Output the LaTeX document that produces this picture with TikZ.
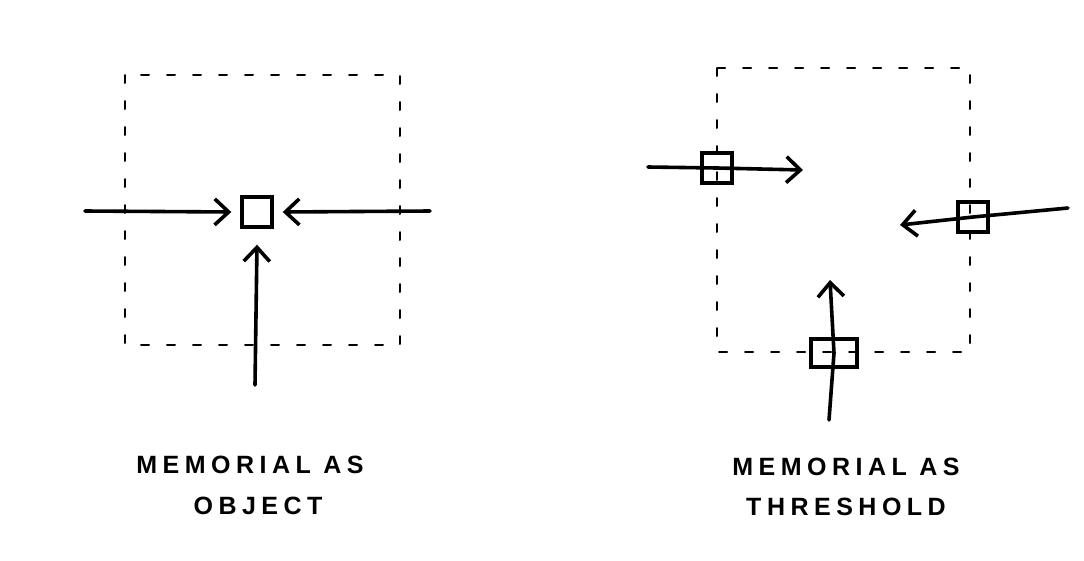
\documentclass[tikz,border=0pt]{standalone}
\usepackage{fontspec}
\setmainfont{Liberation Sans}[LetterSpace=22]
\usetikzlibrary{arrows.meta}
\begin{document}
\begin{tikzpicture}[x=1pt,y=-1pt,
  frame/.style={line width=2pt,dash pattern=on 8pt off 18pt,line cap=round},
  flow/.style={line width=3.6pt,line cap=round,-{Straight Barb[length=14pt,width=26pt,line width=3.6pt]}},
  memo/.style={draw,line width=3.4pt,minimum width=30pt,minimum height=30pt,inner sep=0pt},
  lbl/.style={font=\fontsize{25}{29}\selectfont\bfseries,align=center,inner sep=0pt}]
\useasboundingbox (0,0) rectangle (1084,560);
% left diagram
\coordinate (l1) at (125,75);
\coordinate (l2) at (400,345);
\draw[frame] (l1) rectangle (l2);
\node[memo] (sq) at (257,212) {};
\coordinate (la) at (85,211);
\coordinate (ra) at (430,211);
\coordinate (ba) at (255,385);
\draw[flow] (la) -- ([xshift=-9pt]sq.west);
\draw[flow] (ra) -- ([xshift=9pt]sq.east);
\draw[flow] (ba) -- ([yshift=-16pt]sq.south);
\node[lbl] (t1) at (250,465) {MEMORIAL AS};
\node[lbl] (t2) at (258,506) {OBJECT};
% right diagram
\coordinate (r1) at (717,68);
\coordinate (r2) at (970,352);
\draw[frame] (r1) rectangle (r2);
\node[memo] (s1) at (717,168) {};
\node[memo] (s2) at (973,217) {};
\node[memo,minimum width=46pt,minimum height=28pt] (s3) at (834,353) {};
\coordinate (a1s) at (648,167);
\coordinate (a1e) at (803,170);
\coordinate (a2s) at (1068,208);
\coordinate (a2e) at (900,225);
\coordinate (a3s) at (829,420);
\coordinate (a3e) at (830,280);
\draw[flow] (a1s) -- (s1.center) -- (a1e);
\draw[flow] (a2s) -- (s2.center) -- (a2e);
\draw[flow] (a3s) -- (s3.center) -- (a3e);
\node[lbl] (t3) at (846,467) {MEMORIAL AS};
\node[lbl] (t4) at (846,507) {THRESHOLD};
\end{tikzpicture}
\end{document}
